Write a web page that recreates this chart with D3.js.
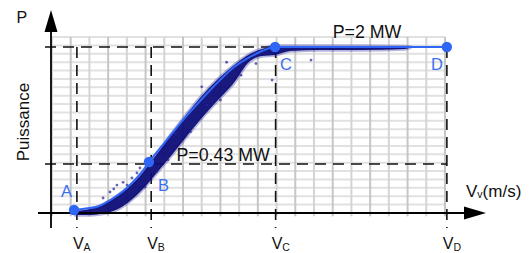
<!DOCTYPE html>
<html><head><meta charset="utf-8">
<script src="https://cdn.jsdelivr.net/npm/d3@7"></script>
<style>
body{margin:0;background:#fff}
svg{display:block}
text{font-family:"Liberation Sans",Arial,Helvetica,sans-serif}
</style>
</head><body>
<svg id="chart" width="531" height="253"></svg>
<script>
// ---- data (wind speed V in m/s-like units, power P in MW-like units) ----
const pointLabels = ["A", "B", "C", "D"];
const pointV = [1.18, 5.18, 11.92, 21.1];
const pointP = [0.036, 0.614, 2.0, 2.0];

const tickNames = ["A", "B", "C", "D"];
const tickV = [1.33, 5.3, 11.95, 21.1];

const levelP = [2.0, 0.59];
const levelLabels = ["P=2 MW", "P=0.43 MW"];
const levelLabelV = [15.0, 6.65];

const curveV = [1.18, 1.82, 2.46, 2.94, 3.37, 3.85, 4.27, 4.76, 5.18, 6.09, 7.0, 7.91, 8.82, 9.67, 10.58, 11.22, 11.92, 21.1];
const curveP = [0.036, 0.054, 0.078, 0.133, 0.193, 0.271, 0.361, 0.482, 0.614, 0.867, 1.12, 1.349, 1.566, 1.747, 1.88, 1.952, 2.0, 2.0];

const bandV = [1.28, 2.03, 2.56, 3.10, 3.63, 4.17, 4.70, 5.24, 5.77, 6.31, 7.00, 7.91, 8.82, 9.67, 10.58, 11.22, 11.92, 12.72, 14.32, 16.46, 18.86, 19.13];
const bandTop = [0.024, 0.048, 0.084, 0.145, 0.229, 0.325, 0.446, 0.602, 0.759, 0.928, 1.133, 1.386, 1.602, 1.771, 1.916, 1.976, 2.012, 2.012, 2.012, 2.012, 2.006, 2.0];
const bandBottom = [-0.024, -0.024, -0.012, 0.012, 0.06, 0.145, 0.253, 0.386, 0.53, 0.675, 0.867, 1.12, 1.349, 1.554, 1.831, 1.892, 1.904, 1.952, 1.964, 1.964, 1.976, 1.994];

const scatterV = [2.73, 3.10, 3.47, 4.01, 4.27, 4.54, 4.70, 4.97, 11.76, 13.84, 9.33, 3.30, 3.80, 6.6, 8.3, 10.1, 5.6, 7.4, 9.0, 10.9, 6.2, 8.0];
const scatterP = [0.181, 0.253, 0.337, 0.337, 0.422, 0.482, 0.542, 0.313, 1.602, 1.843, 1.816, 0.29, 0.37, 0.95, 1.30, 1.66, 0.50, 0.98, 1.36, 1.80, 0.64, 1.52];

const gridCols = 21, gridRows = 21, gridTopP = 2.12;

// ---- drawing ----
const svg = d3.select("#chart");
const x = d3.scaleLinear().domain([0, 21]).range([52, 445]);
const y = d3.scaleLinear().domain([0, 2]).range([213, 47]);

const blue = "#2f66f5";
const labelBlue = "#3b6ef3";

// grid
const g = svg.append("g");
g.selectAll("line.h").data(d3.range(gridRows + 1)).join("line")
  .attr("x1", x(0)).attr("x2", x(gridCols))
  .attr("y1", k => y(k * gridTopP / gridRows)).attr("y2", k => y(k * gridTopP / gridRows))
  .attr("stroke", "#e1e1e1").attr("stroke-width", 2);
g.selectAll("line.v").data(d3.range(gridCols + 1)).join("line")
  .attr("x1", k => x(k)).attr("x2", k => x(k))
  .attr("y1", y(gridTopP)).attr("y2", y(-0.04))
  .attr("stroke", k => k % 2 ? "#c6c6c6" : "#d4d4d4").attr("stroke-width", 2);

// dashed guides
const dash = "11,7";
const yBottomGuide = 228;
svg.selectAll("line.dv").data(tickV).join("line")
  .attr("x1", d => x(d)).attr("x2", d => x(d))
  .attr("y1", y(levelP[0])).attr("y2", yBottomGuide)
  .attr("stroke", "#111").attr("stroke-width", 1.6).attr("stroke-dasharray", dash);
svg.selectAll("line.dh").data(levelP).join("line")
  .attr("x1", 45).attr("x2", x(tickV[3]))
  .attr("y1", d => y(d)).attr("y2", d => y(d))
  .attr("stroke", "#111").attr("stroke-width", 1.6).attr("stroke-dasharray", dash);

// scatter band
const defs = svg.append("defs");
defs.append("filter").attr("id", "blur").attr("x", "-10%").attr("y", "-10%").attr("width", "120%").attr("height", "120%")
  .append("feGaussianBlur").attr("stdDeviation", 0.7);
const band = bandV.map((v, i) => ({v, hi: bandTop[i], lo: bandBottom[i]}));
const bandArea = d3.area().x(d => x(d.v)).y0(d => y(d.lo)).y1(d => y(d.hi)).curve(d3.curveMonotoneX);
svg.append("path").datum(band).attr("d", bandArea)
  .attr("fill", "none").attr("stroke", "#3030a0").attr("stroke-width", 3.5).attr("opacity", 0.35);
svg.append("path").datum(band).attr("d", bandArea)
  .attr("fill", "#0c0c78").attr("opacity", 0.95).attr("filter", "url(#blur)");
svg.selectAll("circle.sc").data(scatterV).join("circle")
  .attr("cx", d => x(d)).attr("cy", (d, i) => y(scatterP[i])).attr("r", 1.4)
  .attr("fill", "#24249a").attr("opacity", 0.7);

// axes
const axisColor = "#000";
svg.append("line").attr("x1", 51).attr("x2", 51).attr("y1", 28).attr("y2", 228)
  .attr("stroke", axisColor).attr("stroke-width", 1.8);
svg.append("path").attr("d", "M51,10 L44.5,32 L57.5,32 Z").attr("fill", axisColor);
svg.append("line").attr("x1", 38).attr("x2", 468).attr("y1", 213).attr("y2", 213)
  .attr("stroke", axisColor).attr("stroke-width", 1.8);
svg.append("path").attr("d", "M486,213 L464,206.5 L464,219.5 Z").attr("fill", axisColor);

// fit curve
const curve = curveV.map((v, i) => ({v, p: curveP[i]}));
svg.append("path").datum(curve)
  .attr("d", d3.line().x(d => x(d.v)).y(d => y(d.p)).curve(d3.curveMonotoneX))
  .attr("fill", "none").attr("stroke", blue).attr("stroke-width", 2);

// key points
svg.selectAll("circle.pt").data(pointV).join("circle")
  .attr("cx", d => x(d)).attr("cy", (d, i) => y(pointP[i])).attr("r", 5.2)
  .attr("fill", blue);
const lblOff = [[-2, -13, "end"], [9, 29, "start"], [5, 23, "start"], [-4, 23, "end"]];
svg.selectAll("text.pl").data(pointLabels).join("text")
  .attr("x", (d, i) => x(pointV[i]) + lblOff[i][0])
  .attr("y", (d, i) => y(pointP[i]) + lblOff[i][1])
  .attr("text-anchor", (d, i) => lblOff[i][2])
  .attr("font-size", 16.5).attr("fill", labelBlue).text(d => d);

// level labels
svg.selectAll("text.lv").data(levelLabels).join("text")
  .attr("x", (d, i) => x(levelLabelV[i]))
  .attr("y", (d, i) => y(levelP[i]) - (i === 0 ? 9 : 3.5))
  .attr("font-size", 17.8).attr("fill", "#111").text(d => d);

// tick labels V_X
const tl = svg.selectAll("text.tk").data(tickNames).join("text")
  .attr("x", (d, i) => x(tickV[i]) - 4).attr("y", 249)
  .attr("font-size", 16).attr("fill", "#111");
tl.append("tspan").text("V");
tl.append("tspan").attr("font-size", 10.5).attr("dy", 1.5).text(d => d);

// axis titles
svg.append("text").attr("x", 16.5).attr("y", 22.5).attr("font-size", 16).attr("fill", "#111").text("P");
svg.append("text").attr("transform", "translate(28.5,122) rotate(-90)")
  .attr("text-anchor", "middle").attr("font-size", 17).attr("fill", "#111").text("Puissance");
const xt = svg.append("text").attr("x", 466).attr("y", 197).attr("font-size", 17).attr("fill", "#111");
xt.append("tspan").text("V");
xt.append("tspan").attr("font-size", 10.5).attr("dy", 1).text("v");
xt.append("tspan").attr("dy", -1).text("(m/s)");
</script>
</body></html>
